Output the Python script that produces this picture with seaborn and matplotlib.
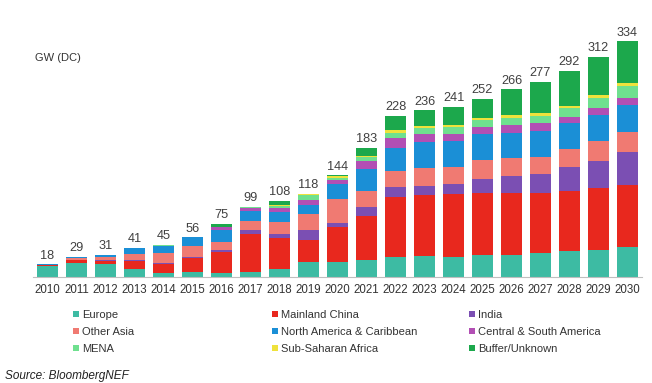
import matplotlib
matplotlib.use("Agg")
import matplotlib.pyplot as plt
from matplotlib.patches import Patch
import seaborn as sns

years = [str(y) for y in range(2010, 2031)]
totals = [18, 29, 31, 41, 45, 56, 75, 99, 108, 118, 144, 183, 228, 236, 241, 252, 266, 277, 292, 312, 334]

# Segment values (GW), bottom to top
europe =     [16, 20.5, 18, 12, 6, 7.5, 6, 7.5, 12, 21.5, 21.5, 24, 28.5, 29.5, 28.5, 31, 30.5, 34, 36.5, 38.5, 43]
china =      [0.5, 3, 5, 11, 13, 20, 29.5, 54, 43.5, 31.5, 50, 63, 85.5, 86, 89, 88, 88, 84.5, 85, 87, 87.5]
india =      [0, 0.5, 1, 1, 1, 1, 3, 5, 6, 13, 5.5, 11.5, 13, 14, 14, 20, 25, 27.5, 34, 38.5, 46.5]
other_asia = [1, 3, 4, 8, 14, 16, 11.5, 12.5, 17, 23.5, 34, 23.5, 23.5, 25, 24.5, 27, 25, 24.5, 26, 29, 28.5]
n_america =  [0.5, 2, 3, 9, 10.5, 11.5, 16.5, 15, 14, 13, 20.5, 30.5, 32, 37.5, 36.5, 36.5, 36, 36.5, 37, 36, 38.5]
cs_america = [0, 0, 0, 0, 0, 0, 4, 3.5, 5, 6.5, 6.5, 12.5, 14, 11, 10.5, 9.5, 11, 11, 8.5, 11, 10]
mena =       [0, 0, 0, 0, 0.5, 0, 1, 1, 3.5, 7, 2, 4.5, 8, 7.5, 9.5, 10, 10.5, 10.5, 12, 14, 17]
ss_africa =  [0, 0, 0, 0, 0, 0, 0, 0, 0.5, 1, 3, 2, 3.5, 3.5, 3, 4, 3.5, 3.5, 4, 4, 3.5]
buffer =     [0, 0, 0, 0, 0, 0, 3.5, 0.5, 6.5, 1, 1, 11, 20, 22, 25.5, 26, 36.5, 45, 49, 54, 59.5]

series = [
    ("Europe", europe, "#3dbba3"),
    ("Mainland China", china, "#e8281e"),
    ("India", india, "#7b4fb3"),
    ("Other Asia", other_asia, "#f07a72"),
    ("North America & Caribbean", n_america, "#1b8fd6"),
    ("Central & South America", cs_america, "#b24fb4"),
    ("MENA", mena, "#6fe08f"),
    ("Sub-Saharan Africa", ss_africa, "#efe23c"),
    ("Buffer/Unknown", buffer, "#1ca84c"),
]

sns.set_style("white")
plt.rcParams["font.family"] = ["Liberation Sans", "DejaVu Sans"]

fig = plt.figure(figsize=(6.52, 3.83), dpi=100)
ax = fig.add_axes([33 / 652, 1 - 277 / 383, 609 / 652, 247 / 383])

# cumulative stacks, drawn tallest first so lower layers cover them
cums = []
running = [0.0] * len(years)
for name, vals, col in series:
    running = [r + v for r, v in zip(running, vals)]
    cums.append(running)

for (name, vals, col), cum in zip(reversed(series), reversed(cums)):
    sns.barplot(x=years, y=cum, color=col, saturation=1, width=0.72,
                linewidth=0, ax=ax)

ax.bar_label(ax.containers[0], labels=[str(t) for t in totals], padding=2,
             fontsize=9.2, color="#404040")

ax.set_ylim(0, 350)
ax.set_xlim(-0.5, len(years) - 0.5)
ax.set_yticks([])
ax.set_xlabel("")
ax.set_ylabel("")
for s in ["top", "left", "right"]:
    ax.spines[s].set_visible(False)
ax.spines["bottom"].set_color("#bfbfbf")
ax.spines["bottom"].set_linewidth(0.8)
ax.tick_params(axis="x", labelsize=8.3, colors="#333333", length=0, pad=5)

fig.text(35 / 652, 1 - 58 / 383, "GW (DC)", fontsize=8, color="#333333", va="center")

# legend in three separate columns
col_x = [73, 272, 469]
for i in range(3):
    items = [series[i], series[i + 3], series[i + 6]]
    handles = [Patch(facecolor=c, edgecolor="none") for _, _, c in items]
    fig.legend(handles, [n for n, _, _ in items], loc="upper left",
               bbox_to_anchor=(col_x[i] / 652, 1 - 310 / 383), frameon=False,
               fontsize=8, handlelength=0.55, handleheight=0.55, handletextpad=0.3,
               labelspacing=0.62, borderpad=0, borderaxespad=0, labelcolor="#333333")

fig.text(5 / 652, 1 - 376 / 383, "Source: BloombergNEF", fontsize=8.5,
         style="italic", color="#222222", va="center")

fig.savefig("out.png", dpi=100, facecolor="white")
